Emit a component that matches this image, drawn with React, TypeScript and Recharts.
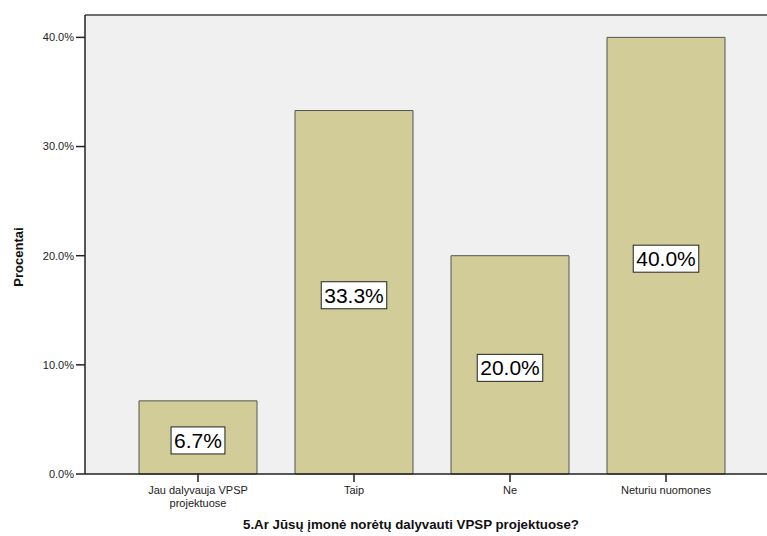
import { BarChart, Bar, XAxis, YAxis, CartesianGrid, ReferenceLine, LabelList, Text } from 'recharts';

const categories = ['Jau dalyvauja VPSP projektuose', 'Taip', 'Ne', 'Neturiu nuomones'];
const percents = [6.7, 33.3, 20.0, 40.0];
const yTicks = [0, 10, 20, 30, 40];

const Y_MAX = 42.05;
const FONT = 'Arial, "Liberation Sans", sans-serif';
const BAR_FILL = '#d2cd98';

const data = categories.map((name, i) => ({ name, value: percents[i] }));

// rough Arial advance widths, used to size the white label boxes
function textWidth(s: string, size: number) {
  let w = 0;
  for (const ch of s) {
    if (ch === '.') w += 0.278;
    else if (ch === '%') w += 0.889;
    else w += 0.556;
  }
  return w * size;
}

function BoxLabel(props: any) {
  const { x, y, width, height, value } = props;
  const text = `${Number(value).toFixed(1)}%`;
  const size = 21;
  const tw = textWidth(text, size);
  const cx = x + width / 2;
  const cy = y + height / 2 + 3;
  const bw = tw + 6;
  const bh = 27;
  return (
    <g>
      <rect x={cx - bw / 2} y={cy - bh / 2} width={bw} height={bh} fill="#fff" stroke="#222" strokeWidth={1} />
      <text x={cx} y={cy} textAnchor="middle" dominantBaseline="central" fontSize={size} fontFamily={FONT} fill="#000">
        {text}
      </text>
    </g>
  );
}

function CatTick(props: any) {
  const { x, y, payload } = props;
  return (
    <Text x={x} y={y + 2} width={140} textAnchor="middle" verticalAnchor="start" fontSize={11} fontFamily={FONT} fill="#222" lineHeight={13}>
      {payload.value}
    </Text>
  );
}

export default function App() {
  return (
    <div style={{ position: 'absolute', left: 0, top: 0, background: '#fff' }}>
      <BarChart width={767} height={536} data={data} margin={{ top: 15, right: 0, bottom: 0, left: 0 }} barSize={118}>
        <CartesianGrid horizontal={false} vertical={false} fill="#f0f0f0" />
        <ReferenceLine y={Y_MAX} stroke="#6e6e6e" strokeWidth={2} />
        <XAxis
          dataKey="name"
          height={62}
          padding={{ left: 35, right: 23 }}
          tick={<CatTick />}
          tickSize={8}
          axisLine={{ stroke: '#222', strokeWidth: 1.5 }}
          tickLine={{ stroke: '#222', strokeWidth: 1.5 }}
          interval={0}
          label={{
            content: () => (
              <text x={411} y={529} textAnchor="middle" fontSize={13.3} fontWeight="bold" fontFamily={FONT} fill="#111">
                5.Ar Jūsų įmonė norėtų dalyvauti VPSP projektuose?
              </text>
            ),
          }}
        />
        <YAxis
          width={85}
          domain={[0, Y_MAX]}
          ticks={yTicks}
          tickFormatter={(v: number) => `${v.toFixed(1)}%`}
          tick={{ fontSize: 11, fontFamily: FONT, fill: '#222' }}
          tickSize={9}
          tickMargin={2}
          axisLine={{ stroke: '#222', strokeWidth: 1.5 }}
          tickLine={{ stroke: '#222', strokeWidth: 1.5 }}
          label={{
            content: () => (
              <text x={23} y={257} transform="rotate(-90 23 257)" textAnchor="middle" fontSize={13} fontWeight="bold" fontFamily={FONT} fill="#111">
                Procentai
              </text>
            ),
          }}
        />
        <Bar dataKey="value" fill={BAR_FILL} stroke="#555" strokeWidth={1} isAnimationActive={false}>
          <LabelList dataKey="value" content={<BoxLabel />} />
        </Bar>
      </BarChart>
    </div>
  );
}
